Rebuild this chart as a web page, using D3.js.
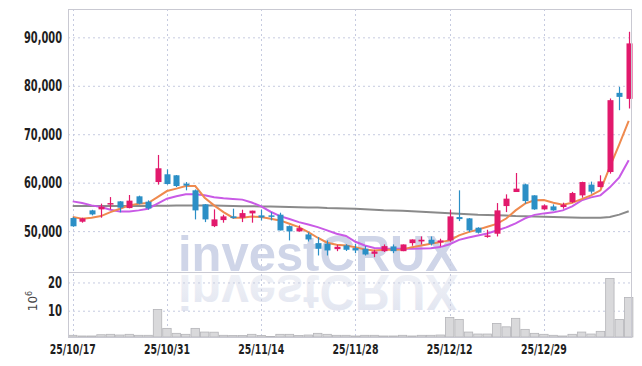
<!DOCTYPE html>
<html lang="en">
<head>
  <meta charset="UTF-8">
  <script src="https://d3js.org/d3.v7.min.js"></script>
  <title>investCRUX candle chart</title>
  <style>
    body { margin: 0; background: #fff; overflow: hidden; }
    .lbl { font-family: "DejaVu Sans Condensed", "Liberation Sans", sans-serif; font-weight: bold; fill: #1e1e1e; }
  </style>
</head>
<body>
<script>
  // trading days
  const dates = [
    "25/10/17","25/10/20","25/10/21","25/10/22","25/10/23","25/10/24","25/10/27","25/10/28","25/10/29","25/10/30",
    "25/10/31","25/11/03","25/11/04","25/11/05","25/11/06","25/11/07","25/11/10","25/11/11","25/11/12","25/11/13",
    "25/11/14","25/11/17","25/11/18","25/11/19","25/11/20","25/11/21","25/11/24","25/11/25","25/11/26","25/11/27",
    "25/11/28","25/12/01","25/12/02","25/12/03","25/12/04","25/12/05","25/12/08","25/12/09","25/12/10","25/12/11",
    "25/12/12","25/12/15","25/12/16","25/12/17","25/12/18","25/12/19","25/12/22","25/12/23","25/12/24","25/12/26",
    "25/12/29","25/12/30","26/01/02","26/01/05","26/01/06","26/01/07","26/01/08","26/01/09","26/01/12","26/01/13"
  ];
  const open = [52700,51940,54280,54490,55580,56140,54760,57180,56080,60130,
    61730,61520,59800,58420,55520,51030,52280,53040,52770,53660,
    53250,53250,53390,51030,49940,49320,47520,47390,46280,47040,
    46500,46360,45320,45860,46840,45860,47520,47870,48220,47660,
    48080,52900,52630,50700,48900,49460,55170,58070,59660,57380,
    54490,55100,54970,56000,57380,59600,59100,62200,78540,77300];
  const high = [52900,52770,54400,55670,57030,56200,57450,57320,56350,65720,
    62740,61580,60130,58600,55600,54490,53390,54630,54420,54220,
    54420,53930,53800,51180,51180,49740,48760,48080,47180,47300,
    47390,46910,46150,47250,47250,47250,48280,48900,48900,48430,
    54420,58420,52700,50800,50280,55790,57590,62000,59800,57400,
    55500,55520,55870,58100,60200,60220,61520,77380,79780,91150];
  const low = [50900,51740,53250,52770,54490,53870,54700,55520,54420,59600,
    59600,59100,58420,52420,51860,50830,51740,52560,51860,51740,
    52210,52210,50140,48080,49900,47860,44970,44970,45860,45900,
    45450,44970,44620,45700,45450,45860,46980,47250,47040,46840,
    47800,52070,49800,49500,48630,48900,53930,58070,55670,54400,
    54400,54200,54630,55800,56900,57730,59000,61860,74960,75310];
  const close = [51000,52630,53450,55050,55790,54840,56290,55670,54690,62970,
    59720,59310,59400,54280,52420,52420,53040,52690,53720,54220,
    52830,53040,50140,49940,50620,48280,46360,46010,46770,46150,
    46010,45180,45800,46900,45860,47250,48280,48220,47390,48080,
    53040,52480,50140,49670,49110,54280,56700,58770,56200,54490,
    55310,54280,55460,57860,60130,58150,60270,77030,77710,88750];
  // volume, millions of shares
  const volume = [1.3,1.06,1.06,1.5,1.65,1.4,1.65,1.3,1.3,10.45,
    3.75,2.0,1.65,3.75,2.45,2.4,1.3,1.2,1.2,1.65,
    1.2,0.9,1.65,1.65,1.2,1.4,2.0,1.65,1.3,1.3,
    1.06,1.3,1.3,1.06,1.06,1.3,1.06,1.3,1.3,1.4,
    7.6,6.9,2.45,1.75,1.75,5.5,4.3,7.3,3.4,2.0,
    1.65,1.3,1.06,1.65,2.45,1.75,2.7,21.4,6.9,14.7];
  // moving averages
  const maShort = [52900,52560,52770,53100,53930,54630,55310,55670,55790,57030,
    58270,58770,59310,59300,56900,55310,53930,52770,52770,53000,
    52900,52560,52210,51530,50830,49800,48630,47600,47180,47040,
    46690,46220,46010,46150,46150,46220,46690,47040,47390,47730,
    48080,49110,49800,50300,50900,51500,52600,54280,55670,56350,
    56400,55870,55460,55870,56600,57380,58420,63240,67900,72750];
  const maMid = [56140,55790,55310,54960,54420,54070,54070,54280,54630,55670,
    56700,57180,57590,57590,57400,57000,56800,56650,56500,55900,
    55100,54000,53100,52500,51860,51350,50830,50150,49460,49000,
    47800,47040,46500,46400,46350,46350,46350,46400,46450,46700,
    47300,48200,48700,49100,49500,50140,50760,51590,52630,53350,
    53660,53870,54280,55100,56350,56970,57380,59040,61100,64620];
  const maLong = [55200,55200,55200,55200,55200,55200,55200,55200,55200,55250,
    55250,55300,55300,55300,55300,55300,55250,55200,55150,55150,
    55100,55100,55050,55000,54950,54900,54850,54750,54700,54650,
    54600,54500,54400,54300,54250,54200,54100,54000,53900,53800,
    53700,53600,53500,53400,53350,53300,53200,53100,53050,53000,
    52950,52900,52850,52800,52780,52770,52770,52900,53400,54100];
  const priceTicks = [50000, 60000, 70000, 80000, 90000];
  const volTicks = [10, 20];
  const labelIdx = [0, 10, 20, 30, 40, 50];

  const width = 642, height = 366;
  const plotL = 68, plotR = 632, plotT = 9, plotSep = 272, plotB = 337;

  const svg = d3.select("body").append("svg")
    .attr("width", width).attr("height", height);

  const x = d3.scaleLinear().domain([-0.5, 59.35]).range([plotL, plotR]);
  const y = d3.scaleLinear().domain([41870, 95850]).range([270.5, plotT]);
  const yv = d3.scaleLinear().domain([0.7, 23.7]).range([plotB, plotSep]);

  const upColor = "#e2196c", downColor = "#2b8fc6";
  const gridColor = "#c6cbe0";

  // watermark + reflection (reflection is a flipped copy)
  const grad = svg.append("defs").append("linearGradient")
    .attr("id", "fade").attr("x1", 0).attr("y1", 0).attr("x2", 0).attr("y2", 1);
  grad.append("stop").attr("offset", "0%").attr("stop-color", "#dfe3ef");
  grad.append("stop").attr("offset", "100%").attr("stop-color", "#f3f4f8");

  const wm = svg.append("g")
    .style("font-family", "'Liberation Sans', Arial, sans-serif")
    .style("font-weight", "bold").style("font-size", "50px");
  wm.append("text")
    .attr("x", 178).attr("y", 271)
    .attr("textLength", 280).attr("lengthAdjust", "spacingAndGlyphs")
    .attr("fill", "#cfd5e8")
    .text("investCRUX");
  wm.append("g")
    .attr("transform", "translate(0," + (273 * 2) + ") scale(1,-1)")
    .append("text")
    .attr("x", 178).attr("y", 271)
    .attr("textLength", 280).attr("lengthAdjust", "spacingAndGlyphs")
    .attr("fill", "url(#fade)")
    .text("investCRUX");

  // grid
  const grid = svg.append("g");
  grid.selectAll(".hg").data(priceTicks).enter().append("line")
    .attr("x1", plotL).attr("x2", plotR)
    .attr("y1", d => y(d) + 0.5).attr("y2", d => y(d) + 0.5)
    .attr("stroke", gridColor).attr("stroke-dasharray", "2,3");
  grid.selectAll(".vg").data(volTicks).enter().append("line")
    .attr("x1", plotL).attr("x2", plotR)
    .attr("y1", d => yv(d) + 0.5).attr("y2", d => yv(d) + 0.5)
    .attr("stroke", gridColor).attr("stroke-dasharray", "2,3");
  grid.selectAll(".xg").data(labelIdx).enter().append("line")
    .attr("x1", d => Math.round(x(d)) + 0.5).attr("x2", d => Math.round(x(d)) + 0.5)
    .attr("y1", plotT).attr("y2", plotB)
    .attr("stroke", gridColor).attr("stroke-dasharray", "2,3");

  // volume bars
  const step = x(1) - x(0);
  svg.append("g").selectAll("rect").data(volume).enter().append("rect")
    .attr("x", (d, i) => x(i) - step / 2 + 0.5)
    .attr("width", step - 1)
    .attr("y", d => yv(d))
    .attr("height", d => plotB - yv(d))
    .attr("fill", "#d9d9db").attr("stroke", "#b4b4b8").attr("stroke-width", 0.8);

  // moving averages
  const line = d3.line().x((d, i) => x(i)).y(d => y(d));
  [[maLong, "#8a8a8a"], [maMid, "#c95ae6"], [maShort, "#ef8a4e"]].forEach(([s, c]) => {
    svg.append("path").datum(s)
      .attr("d", line).attr("fill", "none")
      .attr("stroke", c).attr("stroke-width", 2);
  });

  // candles
  const idx = d3.range(dates.length);
  const candle = svg.append("g").selectAll("g").data(idx).enter().append("g");
  candle.append("line")
    .attr("x1", i => Math.round(x(i)) + 0.5).attr("x2", i => Math.round(x(i)) + 0.5)
    .attr("y1", i => y(high[i])).attr("y2", i => y(low[i]))
    .attr("stroke", i => close[i] >= open[i] ? upColor : downColor)
    .attr("stroke-width", 1.2);
  candle.append("rect")
    .attr("x", i => Math.round(x(i)) - 2.5)
    .attr("width", 6)
    .attr("y", i => y(Math.max(open[i], close[i])))
    .attr("height", i => Math.max(1.5, Math.abs(y(open[i]) - y(close[i]))))
    .attr("fill", i => close[i] >= open[i] ? upColor : downColor);

  // frame
  const frame = svg.append("g").attr("stroke", "#c9c9d2").attr("fill", "none");
  frame.append("rect").attr("x", plotL + 0.5).attr("y", plotT + 0.5)
    .attr("width", plotR - plotL - 1).attr("height", plotB - plotT);
  frame.append("line").attr("x1", plotL).attr("x2", plotR)
    .attr("y1", plotSep + 0.5).attr("y2", plotSep + 0.5);

  // axis labels
  const fmt = d3.format(",");
  svg.append("g").selectAll("text").data(priceTicks).enter().append("text")
    .attr("class", "lbl").attr("x", 62).attr("y", d => y(d))
    .attr("dy", "0.36em").attr("text-anchor", "end")
    .attr("textLength", 38).attr("lengthAdjust", "spacingAndGlyphs")
    .style("font-size", "15px")
    .text(d => fmt(d));
  svg.append("g").selectAll("text").data(volTicks).enter().append("text")
    .attr("class", "lbl").attr("x", 62).attr("y", d => yv(d))
    .attr("dy", "0.36em").attr("text-anchor", "end")
    .attr("textLength", 14).attr("lengthAdjust", "spacingAndGlyphs")
    .style("font-size", "15px")
    .text(d => d);
  const unit = svg.append("text")
    .attr("transform", "translate(37,301) rotate(-90)")
    .attr("text-anchor", "middle")
    .style("font-family", "'DejaVu Sans', sans-serif")
    .style("font-size", "12px").attr("fill", "#444");
  unit.append("tspan").text("10");
  unit.append("tspan").attr("dy", -5).style("font-size", "8px").text("6");

  svg.append("g").selectAll("text").data(labelIdx).enter().append("text")
    .attr("class", "lbl").attr("x", d => x(d) - 23).attr("y", 354)
    .attr("textLength", 46).attr("lengthAdjust", "spacingAndGlyphs")
    .style("font-size", "14px")
    .text(d => dates[d]);
</script>
</body>
</html>
